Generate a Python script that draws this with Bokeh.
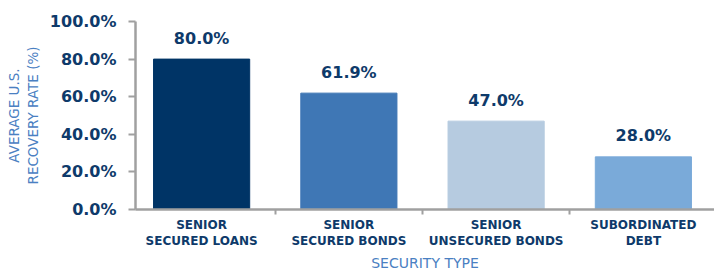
from bokeh.plotting import figure
from bokeh.models import FixedTicker, NumeralTickFormatter, ColumnDataSource, Range1d
from bokeh.core.properties import value
from bokeh.embed import file_html
from bokeh.resources import INLINE

categories = ["SENIOR\nSECURED LOANS", "SENIOR\nSECURED BONDS", "SENIOR\nUNSECURED BONDS", "SUBORDINATED\nDEBT"]
recovery = [0.800, 0.619, 0.470, 0.280]
value_labels = ["80.0%", "61.9%", "47.0%", "28.0%"]
bar_colors = ["#003466", "#3f77b5", "#b6cbe0", "#7aaad9"]
y_ticks = [0.0, 0.2, 0.4, 0.6, 0.8, 1.0]
x_title = "SECURITY TYPE"
y_title = "AVERAGE U.S.\nRECOVERY RATE (%)"

NAVY = "#0e3a6a"
BLUE = "#4a80c2"
GREY = "#a0a0a0"
FONT = "DejaVu Sans"

X0, X1 = -0.449, 3.483
xs = list(range(len(categories)))
src = ColumnDataSource(dict(x=xs, top=recovery, lab=value_labels, color=bar_colors))

p = figure(width=714, height=274, output_backend="svg", toolbar_location=None,
           x_range=Range1d(X0, X1), y_range=Range1d(0, 1.0),
           min_border_left=135, min_border_top=21, min_border_right=0, min_border_bottom=60)
p.outline_line_color = None
p.xgrid.grid_line_color = None
p.ygrid.grid_line_color = None

p.vbar(x="x", top="top", width=0.653, color="color", source=src)
p.text(x="x", y="top", text="lab", source=src, text_align="center", text_baseline="alphabetic",
       y_offset=-21, text_font=value(FONT), text_font_style="bold", text_font_size="16px",
       text_color=NAVY)

# y axis
p.yaxis.ticker = FixedTicker(ticks=y_ticks)
p.yaxis.formatter = NumeralTickFormatter(format="0.0%")
p.yaxis.axis_line_color = GREY
p.yaxis.axis_line_width = 2.5
p.yaxis.major_tick_line_color = GREY
p.yaxis.major_tick_line_width = 2
p.yaxis.major_tick_out = 7
p.yaxis.major_tick_in = 0
p.yaxis.minor_tick_line_color = None
p.yaxis.major_label_text_font = FONT
p.yaxis.major_label_text_font_style = "bold"
p.yaxis.major_label_text_font_size = "16px"
p.yaxis.major_label_text_color = NAVY
p.yaxis.major_label_standoff = 12
p.yaxis.axis_label = y_title
p.yaxis.axis_label_text_font = FONT
p.yaxis.axis_label_text_font_style = "normal"
p.yaxis.axis_label_text_font_size = "13.5px"
p.yaxis.axis_label_text_color = BLUE
p.yaxis.axis_label_standoff = 6

# x axis
p.xaxis.ticker = FixedTicker(ticks=xs, minor_ticks=[0.5, 1.5, 2.5, 3.5])
p.xaxis.major_label_overrides = {i: c for i, c in zip(xs, categories)}
p.xaxis.axis_line_color = GREY
p.xaxis.axis_line_width = 2.5
p.xaxis.major_tick_line_color = None
p.xaxis.major_tick_out = 0
p.xaxis.major_tick_in = 0
p.xaxis.minor_tick_line_color = GREY
p.xaxis.minor_tick_line_width = 2
p.xaxis.minor_tick_out = 5
p.xaxis.minor_tick_in = 0
p.xaxis.major_label_text_font = FONT
p.xaxis.major_label_text_font_style = "bold"
p.xaxis.major_label_text_font_size = "12px"
p.xaxis.major_label_text_color = NAVY
p.xaxis.major_label_standoff = 3
p.xaxis.axis_label = x_title
p.xaxis.axis_label_text_font = FONT
p.xaxis.axis_label_text_font_style = "normal"
p.xaxis.axis_label_text_font_size = "14px"
p.xaxis.axis_label_text_color = BLUE
p.xaxis.axis_label_standoff = 4

open("out.html", "w").write(file_html(p, INLINE))
